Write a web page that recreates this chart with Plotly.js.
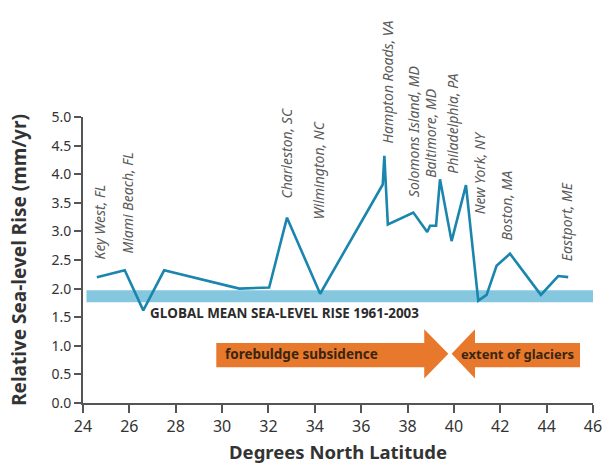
<!DOCTYPE html>
<html>
<head>
<meta charset="utf-8">
<script src="https://cdn.plot.ly/plotly-3.0.1.min.js"></script>
<style>
html,body{margin:0;padding:0;background:#fff;}
#chart{width:602px;height:470px;}
</style>
</head>
<body>
<div id="chart"></div>
<script>
// Line data: latitude (deg N) vs relative sea-level rise (mm/yr)
var latitude = [24.6, 25.8, 26.6, 27.5, 30.74, 32.03, 32.8, 34.23, 36.93, 37.0, 37.15, 38.25, 38.85, 38.97, 39.23, 39.4, 39.9, 40.52, 41.05, 41.41, 41.84, 42.42, 43.75, 44.5, 44.93];
var seaRise  = [2.2, 2.32, 1.62, 2.32, 2.0, 2.02, 3.24, 1.91, 3.82, 4.32, 3.12, 3.33, 2.99, 3.1, 3.1, 3.91, 2.83, 3.81, 1.79, 1.89, 2.4, 2.61, 1.89, 2.22, 2.2];

// Station labels
var stationNames = ["Key West, FL", "Miami Beach, FL", "Charleston, SC", "Wilmington, NC", "Hampton Roads, VA", "Solomons Island, MD", "Baltimore, MD", "Philadelphia, PA", "New York, NY", "Boston, MA", "Eastport, ME"];
var stationLat   = [24.7, 25.9, 32.8, 34.15, 37.13, 38.29, 39.01, 39.95, 41.12, 42.28, 44.83];
var stationLabelY = [2.47, 2.57, 3.54, 3.18, 4.50, 3.56, 3.91, 3.97, 3.27, 2.80, 2.45];

// Global mean band (mm/yr)
var globalBand = [1.76, 1.97];
var globalLabel = "GLOBAL MEAN SEA-LEVEL RISE 1961-2003";

// Process arrows (latitude extents)
var forebuldge = {from: 29.75, headBase: 38.72, tip: 39.76, label: "forebuldge subsidence"};
var glaciers   = {from: 45.44, headBase: 40.91, tip: 39.9, label: "extent of glaciers"};
var arrowY = {lo: 0.626, hi: 1.047, headLo: 0.43, headHi: 1.29, mid: 0.86};

var xTicks = [24, 26, 28, 30, 32, 34, 36, 38, 40, 42, 44, 46];
var yTicks = [0, 0.5, 1, 1.5, 2, 2.5, 3, 3.5, 4, 4.5, 5];

var orange = "#e8792c";
function arrowPath(a) {
  return "M " + a.from + "," + arrowY.lo + " L " + a.headBase + "," + arrowY.lo +
         " L " + a.headBase + "," + arrowY.headLo + " L " + a.tip + "," + arrowY.mid +
         " L " + a.headBase + "," + arrowY.headHi + " L " + a.headBase + "," + arrowY.hi +
         " L " + a.from + "," + arrowY.hi + " Z";
}

var traces = [{
  x: latitude, y: seaRise, type: "scatter", mode: "lines",
  line: {color: "#1a86ad", width: 2.6}, hoverinfo: "x+y", showlegend: false
}];

var annotations = stationNames.map(function(n, i) {
  return {x: stationLat[i], y: stationLabelY[i], xref: "x", yref: "y", text: n,
    textangle: -90, showarrow: false, xanchor: "center", yanchor: "bottom",
    font: {family: "Noto Sans", size: 14, color: "#5a5a5a", style: "italic"}};
});
annotations.push({x: 26.8, y: 1.58, xref: "x", yref: "y", text: "<b>" + globalLabel + "</b>",
  showarrow: false, xanchor: "left", yanchor: "middle",
  font: {family: "Open Sans", size: 13.4, color: "#2b2b2b"}});
annotations.push({x: 30.05, y: arrowY.mid, xref: "x", yref: "y", text: "<b>" + forebuldge.label + "</b>",
  showarrow: false, xanchor: "left", yanchor: "middle",
  font: {family: "Noto Sans", size: 13.5, color: "#3a2510"}});
annotations.push({x: 42.75, y: arrowY.mid, xref: "x", yref: "y", text: "<b>" + glaciers.label + "</b>",
  showarrow: false, xanchor: "center", yanchor: "middle",
  font: {family: "Noto Sans", size: 13, color: "#3a2510"}});

var layout = {
  width: 602, height: 470,
  margin: {l: 83, r: 9, t: 117, b: 67},
  paper_bgcolor: "#fff", plot_bgcolor: "#fff",
  showlegend: false,
  xaxis: {
    range: [24, 46], tickvals: xTicks, ticktext: xTicks.map(String),
    showgrid: false, zeroline: false, showline: true, linecolor: "#555", linewidth: 2,
    ticks: "outside", ticklen: 8, tickwidth: 2, tickcolor: "#555",
    ticklabeloverflow: "allow",
    tickfont: {family: "Noto Sans", size: 16, color: "#333"},
    title: {text: "<b>Degrees North Latitude</b>", font: {family: "Noto Sans", size: 18.5, color: "#333"}, standoff: 10}
  },
  yaxis: {
    range: [0, 5], tickvals: yTicks, ticktext: yTicks.map(function(v){return v.toFixed(1);}),
    showgrid: false, zeroline: false, showline: true, linecolor: "#555", linewidth: 2,
    ticks: "outside", ticklen: 7, tickwidth: 2, tickcolor: "#555",
    tickfont: {family: "Noto Sans", size: 14, color: "#333"},
    title: {text: "<b>Relative Sea-level Rise (mm/yr)</b>", font: {family: "Noto Sans", size: 19, color: "#333"}, standoff: 20}
  },
  shapes: [
    {type: "rect", xref: "x", yref: "y", x0: 24.15, x1: 46, y0: globalBand[0], y1: globalBand[1],
      fillcolor: "#86c7e0", line: {width: 0}, layer: "below"},
    {type: "path", xref: "x", yref: "y", path: arrowPath(forebuldge), fillcolor: orange, line: {width: 0}, layer: "below"},
    {type: "path", xref: "x", yref: "y", path: arrowPath(glaciers), fillcolor: orange, line: {width: 0}, layer: "below"}
  ],
  annotations: annotations
};

Plotly.newPlot("chart", traces, layout, {displayModeBar: false, staticPlot: true});
</script>
</body>
</html>
